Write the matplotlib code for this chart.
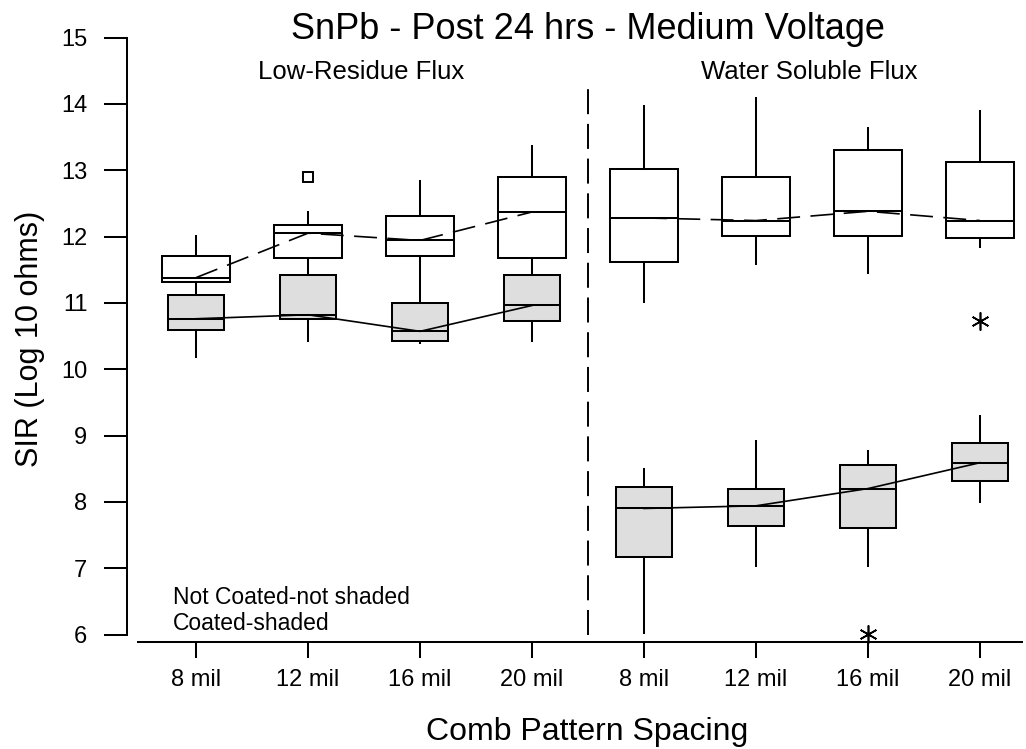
import matplotlib
matplotlib.use('Agg')
import matplotlib.pyplot as plt

plt.rcParams['font.family'] = ['Liberation Sans', 'DejaVu Sans']
plt.rcParams['lines.scale_dashes'] = False

spacing = ['8 mil', '12 mil', '16 mil', '20 mil', '8 mil', '12 mil', '16 mil', '20 mil']
positions = [1, 2, 3, 4, 5, 6, 7, 8]

# not coated (open boxes)
nc_q1  = [11.32, 11.68, 11.71, 11.68, 11.61, 12.01, 12.01, 11.98]
nc_med = [11.38, 12.05, 11.94, 12.37, 12.28, 12.24, 12.38, 12.24]
nc_q3  = [11.71, 12.17, 12.31, 12.90, 13.02, 12.90, 13.30, 13.12]
nc_lo  = [11.20, 11.50, 11.20, 11.50, 11.02, 11.58, 11.45, 11.84]
nc_hi  = [12.01, 12.37, 12.84, 13.36, 13.96, 14.09, 13.63, 13.89]

# coated (shaded boxes)
c_q1  = [10.59, 10.76, 10.43, 10.72, 7.17, 7.64, 7.60, 8.32]
c_med = [10.76, 10.82, 10.57, 10.96, 7.90, 7.94, 8.20, 8.59]
c_q3  = [11.12, 11.42, 10.99, 11.42, 8.22, 8.20, 8.55, 8.89]
c_lo  = [10.19, 10.42, 10.39, 10.42, 6.02, 7.03, 7.03, 7.99]
c_hi  = [11.20, 11.50, 11.20, 11.50, 8.50, 8.92, 8.77, 9.29]

# outliers
sq_x, sq_y = [2], [12.90]
star_x, star_y = [8, 7], [10.72, 6.01]


def stats(q1, med, q3, lo, hi):
    return [dict(q1=a, med=b, q3=c, whislo=d, whishi=e, fliers=[])
            for a, b, c, d, e in zip(q1, med, q3, lo, hi)]


fig = plt.figure(figsize=(10.26, 7.49), dpi=100)
ax = fig.add_axes([138 / 1026, 114.5 / 749, 884 / 1026, 597 / 749])

lw = 1.45
common = dict(showfliers=False, showcaps=False, patch_artist=True, manage_ticks=False,
              medianprops=dict(color='black', linewidth=lw),
              whiskerprops=dict(color='black', linewidth=lw))
ax.bxp(stats(nc_q1, nc_med, nc_q3, nc_lo, nc_hi), positions=positions, widths=0.6,
       boxprops=dict(facecolor='white', edgecolor='black', linewidth=lw), **common)
ax.bxp(stats(c_q1, c_med, c_q3, c_lo, c_hi), positions=positions, widths=0.5,
       boxprops=dict(facecolor='#dedede', edgecolor='black', linewidth=lw), **common)

# median connect lines, one per flux type
for grp in (slice(0, 4), slice(4, 8)):
    ax.plot(positions[grp], nc_med[grp], color='black', lw=1.2, dashes=(16.5, 7.5), zorder=5)
    ax.plot(positions[grp], c_med[grp], color='black', lw=1.2, zorder=5)

ax.plot(sq_x, sq_y, 's', ms=7, mfc='white', mec='black', mew=1.4, zorder=6)
ax.plot(star_x, star_y, ls='none', marker=(6, 2, 0), ms=13, mec='black', mew=1.2,
        zorder=6, clip_on=False)

# separator between flux types
ax.plot([4.5, 4.5], [6, 14.26], color='black', lw=1.4, dashes=(18, 7))

ax.text(2.473, 14.374, 'Low-Residue Flux', ha='center', va='baseline', fontsize=18.5)
ax.text(6.478, 14.374, 'Water Soluble Flux', ha='center', va='baseline', fontsize=18.5)
ax.text(0.792, 6.459, 'Not Coated-not shaded', ha='left', va='baseline', fontsize=16.5)
ax.text(0.792, 6.067, 'Coated-shaded', ha='left', va='baseline', fontsize=16.5)

ax.set_xlim(0.482, 8.375)
ax.set_ylim(6, 15)
ax.set_xticks(positions)
ax.set_xticklabels(spacing)
ax.set_yticks(range(6, 16))

for s in ('top', 'right'):
    ax.spines[s].set_visible(False)
ax.spines['left'].set_position(('outward', 8))
ax.spines['left'].set_bounds(6, 15)
ax.spines['bottom'].set_position(('outward', 5.6))
for s in ('left', 'bottom'):
    ax.spines[s].set_linewidth(lw)
ax.tick_params(axis='y', length=16.5, width=lw, pad=12, labelsize=17)
ax.tick_params(axis='x', length=11.5, width=lw, pad=8, labelsize=17)

fig.text(587.5 / 1026, 1 - 39 / 749, 'SnPb - Post 24 hrs - Medium Voltage',
         ha='center', va='baseline', fontsize=26)
fig.text(587 / 1026, 1 - 740 / 749, 'Comb Pattern Spacing',
         ha='center', va='baseline', fontsize=23)
fig.text(30 / 1026, 1 - 339 / 749, 'SIR (Log 10 ohms)', rotation=90,
         ha='center', va='center', fontsize=22)

fig.savefig('out.png', dpi=100)
